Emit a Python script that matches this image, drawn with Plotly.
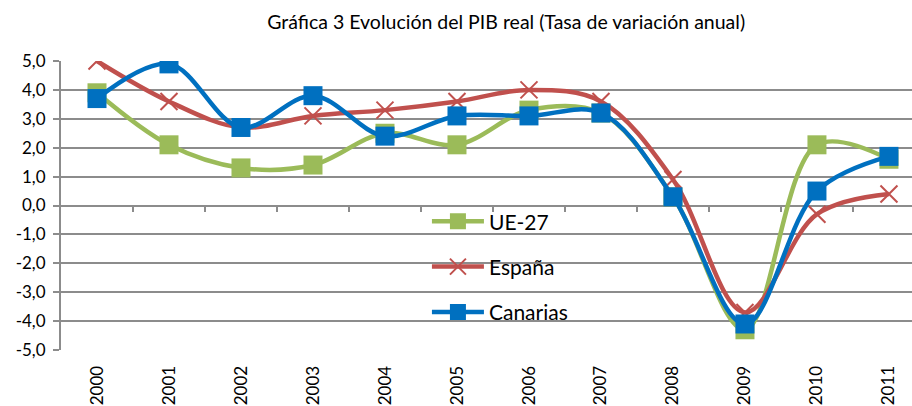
import plotly.graph_objects as go

years = ["2000", "2001", "2002", "2003", "2004", "2005", "2006", "2007", "2008", "2009", "2010", "2011"]
ue27 = [3.9, 2.1, 1.3, 1.4, 2.5, 2.1, 3.3, 3.2, 0.3, -4.3, 2.1, 1.6]
espana = [5.0, 3.6, 2.7, 3.1, 3.3, 3.6, 4.0, 3.6, 0.9, -3.7, -0.3, 0.4]
canarias = [3.7, 4.9, 2.7, 3.8, 2.4, 3.1, 3.1, 3.2, 0.3, -4.1, 0.5, 1.7]
y_ticks = [-5, -4, -3, -2, -1, 0, 1, 2, 3, 4, 5]
y_tick_labels = ["-5,0", "-4,0", "-3,0", "-2,0", "-1,0", "0,0", "1,0", "2,0", "3,0", "4,0", "5,0"]
title = "Gráfica 3 Evolución del PIB real (Tasa de variación anual)"

FONT = "Lato"
GRID = "#8C8C8C"
xi = list(range(len(years)))

fig = go.Figure()
fig.add_trace(go.Scatter(
    x=xi, y=ue27, name="UE-27", mode="lines+markers", legendgroup="a",
    line=dict(color="#9BBB59", width=4.5, shape="spline"),
    marker=dict(symbol="square", size=19, color="#9BBB59")))
fig.add_trace(go.Scatter(
    x=xi, y=espana, name="España", mode="lines+markers", legendgroup="b",
    line=dict(color="#C0504D", width=4.5, shape="spline"),
    marker=dict(symbol="x-thin", size=17, color="#C0504D",
                line=dict(color="#C0504D", width=2))))
fig.add_trace(go.Scatter(
    x=xi, y=canarias, name="Canarias", mode="lines+markers", legendgroup="c",
    line=dict(color="#0070C0", width=4.5, shape="spline"),
    marker=dict(symbol="square", size=19, color="#0070C0")))
# invisible helper trace for the tick axis at zero
fig.add_trace(go.Scatter(x=[0], y=[0], xaxis="x2", mode="markers",
                         marker=dict(opacity=0), showlegend=False, hoverinfo="skip"))

xr = [-0.5, 11.32]
fig.update_layout(
    width=912, height=406,
    margin=dict(l=61, r=0, t=61, b=56),
    paper_bgcolor="white", plot_bgcolor="white",
    title=dict(text=title, x=0.555, xanchor="center", y=0.945, yanchor="middle",
               font=dict(family=FONT, size=19.5, color="black")),
    font=dict(family=FONT, color="black"),
    showlegend=True,
    legend=dict(x=0.43, xanchor="left", y=0.515, yanchor="top",
                bgcolor="rgba(0,0,0,0)", font=dict(size=21, color="black"),
                tracegroupgap=15, itemwidth=52),
    xaxis=dict(range=xr, tickmode="array", tickvals=xi, ticktext=years,
               tickangle=-90, tickfont=dict(size=17), showgrid=False,
               zeroline=False, showline=False, ticks="outside", ticklen=8,
               tickcolor="rgba(0,0,0,0)", automargin=False),
    xaxis2=dict(range=xr, overlaying="x", anchor="free", position=0.5,
                tickmode="array", tickvals=[i + 0.5 for i in xi[:-1]],
                ticks="outside", ticklen=5, tickwidth=2, tickcolor=GRID,
                showticklabels=False, showgrid=False, zeroline=False, showline=False),
    yaxis=dict(range=[-5, 5], tickmode="array", tickvals=y_ticks, ticktext=y_tick_labels,
               tickfont=dict(size=17), showgrid=True, gridcolor=GRID, gridwidth=2,
               zeroline=False, showline=True, linecolor=GRID, linewidth=2,
               ticks="outside", ticklen=6, tickwidth=2, tickcolor=GRID,
               ticklabelstandoff=4, automargin=False),
)

fig.write_html("out.html", config={"displayModeBar": False},
               post_script="document.body.style.margin='0';document.body.style.overflow='hidden';")
